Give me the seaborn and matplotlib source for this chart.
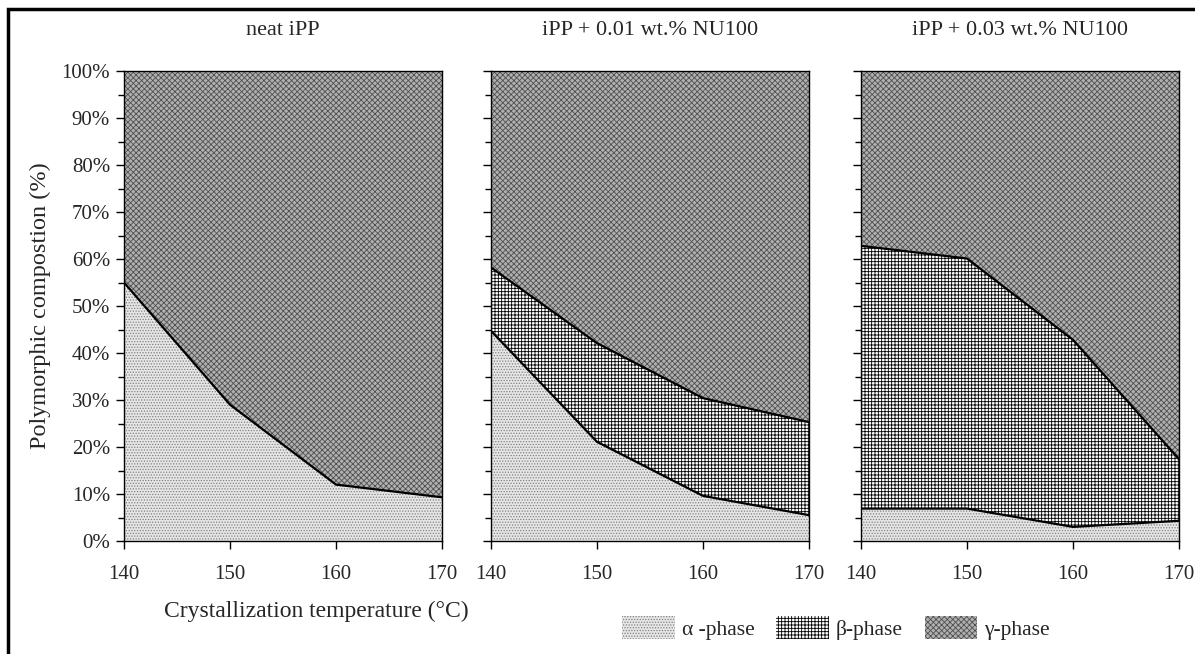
import numpy as np
import pandas as pd
import matplotlib
matplotlib.use("Agg")
import matplotlib.pyplot as plt
import seaborn as sns
from matplotlib.patches import Patch, Rectangle
from matplotlib.ticker import MultipleLocator, FuncFormatter

# ---- data ----
temps = [140, 150, 160, 170]
panel_titles = ["neat iPP", "iPP + 0.01 wt.% NU100", "iPP + 0.03 wt.% NU100"]
# alpha-phase fraction (%)
alpha_neat = [55.0, 29.0, 12.0, 9.3]
alpha_nu001 = [44.7, 21.1, 9.6, 5.5]
alpha_nu003 = [6.9, 6.9, 3.0, 4.3]
# beta-phase fraction (%)
beta_neat = [0.0, 0.0, 0.0, 0.0]
beta_nu001 = [13.5, 21.0, 20.8, 19.8]
beta_nu003 = [55.9, 53.2, 39.8, 13.1]
phase_labels = ["α -phase", "β-phase", "γ-phase"]
x_label = "Crystallization temperature (°C)"
y_label = "Polymorphic compostion (%)"

sns.set_theme(style="white")
plt.rcParams["font.family"] = ["Liberation Serif", "DejaVu Serif"]
plt.rcParams["hatch.linewidth"] = 0.6
plt.rcParams["axes.linewidth"] = 1.0

fig = plt.figure(figsize=(11.95, 6.54), dpi=100)

alphas = [alpha_neat, alpha_nu001, alpha_nu003]
betas = [beta_neat, beta_nu001, beta_nu003]

lefts = [124 / 1195, 491 / 1195, 861 / 1195]
W = 318 / 1195
B = (654 - 541) / 654
H = 470 / 654

styles = {
    "alpha": dict(facecolor="#e6e6e6", edgecolor="#808080", hatch="......"),
    "beta": dict(facecolor="#ffffff", edgecolor="#000000", hatch="+++++"),
    "gamma": dict(facecolor="#b0b0b0", edgecolor="#505050", hatch="xxxxxx"),
}

for i in range(3):
    ax = fig.add_axes([lefts[i], B, W, H])
    df = pd.DataFrame({"T": temps, "alpha": alphas[i], "beta": betas[i]})
    df["ab"] = df["alpha"] + df["beta"]
    zero = np.zeros(len(df))
    hundred = np.full(len(df), 100.0)
    ax.fill_between(df["T"], zero, df["alpha"], linewidth=0, **styles["alpha"])
    ax.fill_between(df["T"], df["alpha"], df["ab"], linewidth=0, **styles["beta"])
    ax.fill_between(df["T"], df["ab"], hundred, linewidth=0, **styles["gamma"])
    sns.lineplot(data=df, x="T", y="alpha", color="black", linewidth=1.6, ax=ax)
    if df["beta"].sum() > 0:
        sns.lineplot(data=df, x="T", y="ab", color="black", linewidth=1.6, ax=ax)
    ax.set_xlim(140, 170)
    ax.set_ylim(0, 100)
    ax.set_xticks(temps)
    ax.yaxis.set_major_locator(MultipleLocator(10))
    ax.yaxis.set_minor_locator(MultipleLocator(5))
    ax.tick_params(axis="both", which="major", direction="out", length=6,
                   width=1, color="black", labelsize=15, pad=11)
    ax.tick_params(axis="y", which="major", pad=4)
    ax.tick_params(axis="y", which="minor", direction="out", length=4,
                   width=1, color="black", left=True)
    ax.tick_params(left=True, bottom=True)
    ax.yaxis.set_major_formatter(FuncFormatter(lambda v, p: f"{int(v)}%"))
    if i > 0:
        ax.set_yticklabels([])
    ax.set_xlabel("")
    ax.set_ylabel("")
    for s in ax.spines.values():
        s.set_color("black")
        s.set_linewidth(1.0)
    ax.set_title(panel_titles[i], fontsize=16, pad=26)

fig.text(40 / 1195, 1 - 306 / 654, y_label, rotation=90, ha="center",
         va="center", fontsize=17.5)
fig.text(316 / 1195, 1 - 611 / 654, x_label, ha="center", va="center",
         fontsize=17)

handles = [Patch(**styles["alpha"], linewidth=0),
           Patch(**styles["beta"], linewidth=0),
           Patch(**styles["gamma"], linewidth=0)]
fig.legend(handles, phase_labels, loc="center", bbox_to_anchor=(836 / 1195, 1 - 628 / 654),
           ncol=3, frameon=False, fontsize=15.5, handlelength=2.45, handleheight=1.3,
           columnspacing=1.0, handletextpad=0.33)

# outer frame (left and top visible)
fig.patches.append(Rectangle((8 / 1195, -0.05), 1.2, 1 - 9 / 654 + 0.05,
                             transform=fig.transFigure, fill=False,
                             edgecolor="black", linewidth=2.5))

fig.savefig("out.png", dpi=100)
